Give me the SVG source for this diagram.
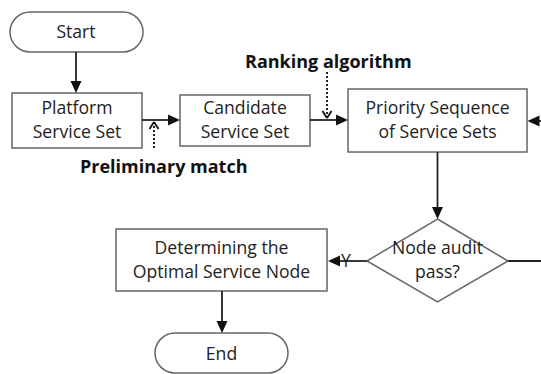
<svg xmlns="http://www.w3.org/2000/svg" width="541" height="374" viewBox="0 0 541 374">
  <style>
    .box { fill: #fff; stroke: #666; stroke-width: 1.5; }
    .t { font-family: "Open Sans", "Noto Sans", sans-serif; font-size: 17.6px; fill: #222; text-anchor: middle; }
    .lbl { font-family: "Open Sans", "Noto Sans", sans-serif; font-size: 18px; font-weight: bold; fill: #111; }
    .ln { fill: none; stroke: #222; stroke-width: 1.8; }
    .dot { fill: none; stroke: #222; stroke-width: 2; stroke-dasharray: 2 2; }
    .head { fill: #111; stroke: none; }
    .chev { fill: none; stroke: #111; stroke-width: 1.8; }
  </style>
  <defs>
    <!-- filled arrowhead, tip at the origin, pointing along +x -->
    <path id="ah" class="head" d="M0,0 L-12,-5.5 L-12,5.5 Z"/>
    <!-- open chevron, tip at the origin, pointing along +x -->
    <path id="ch" class="chev" d="M0,0 L-7,-4.5 M0,0 L-7,4.5"/>
  </defs>

  <g id="start">
    <rect class="box" x="10" y="12" width="133" height="40" rx="20"/>
    <text class="t" x="76" y="38" font-size="18.5">Start</text>
  </g>

  <g id="platform">
    <rect class="box" x="12" y="93" width="130" height="55"/>
    <text class="t" x="77" y="114">Platform</text>
    <text class="t" x="77" y="138">Service Set</text>
  </g>

  <g id="candidate">
    <rect class="box" x="180" y="95" width="130" height="51"/>
    <text class="t" x="245" y="114">Candidate</text>
    <text class="t" x="245" y="138">Service Set</text>
  </g>

  <g id="priority">
    <rect class="box" x="348" y="89" width="179" height="63"/>
    <text class="t" x="437.5" y="114">Priority Sequence</text>
    <text class="t" x="437.5" y="138">of Service Sets</text>
  </g>

  <g id="audit">
    <polygon class="box" points="437.5,219 508,261 437.5,302 367,261"/>
    <text class="t" x="437.5" y="254">Node audit</text>
    <text class="t" x="437.5" y="278">pass?</text>
  </g>

  <g id="optimal">
    <rect class="box" x="116" y="229" width="211" height="62"/>
    <text class="t" x="221.5" y="254">Determining the</text>
    <text class="t" x="221.5" y="278">Optimal Service Node</text>
  </g>

  <g id="end">
    <rect class="box" x="155" y="333" width="133" height="40" rx="20"/>
    <text class="t" x="221.5" y="359.5" font-size="18.5">End</text>
  </g>

  <!-- connectors and their labels -->
  <g id="connectors">
    <line class="ln" x1="76" y1="52" x2="76" y2="84"/>
    <use href="#ah" transform="translate(76,93) rotate(90)"/>
    <line class="ln" x1="142" y1="120" x2="170" y2="120"/>
    <use href="#ah" transform="translate(180,120)"/>
    <line class="ln" x1="310" y1="120" x2="338" y2="120"/>
    <use href="#ah" transform="translate(348,120)"/>
    <line class="ln" x1="541" y1="121" x2="536" y2="121"/>
    <use href="#ah" transform="translate(527.5,121) rotate(180)"/>
    <line class="ln" x1="437.5" y1="152" x2="437.5" y2="210"/>
    <use href="#ah" transform="translate(437.5,219) rotate(90)"/>
    <line class="ln" x1="508" y1="261" x2="541" y2="261"/>
    <line class="ln" x1="367" y1="261" x2="337" y2="261"/>
    <use href="#ah" transform="translate(328,261) rotate(180)"/>
    <line class="ln" x1="222" y1="291" x2="222" y2="324"/>
    <use href="#ah" transform="translate(222,333) rotate(90)"/>
    <line class="dot" x1="154" y1="148" x2="154" y2="123"/>
    <use href="#ch" transform="translate(154,122) rotate(-90)"/>
    <line class="dot" x1="327" y1="72" x2="327" y2="117"/>
    <use href="#ch" transform="translate(327,118) rotate(90)"/>
    <text class="lbl" x="80" y="173">Preliminary match</text>
    <text class="lbl" x="245" y="68" font-size="18.4">Ranking algorithm</text>
    <text class="t" x="346" y="267" font-size="16">Y</text>
  </g>
</svg>
